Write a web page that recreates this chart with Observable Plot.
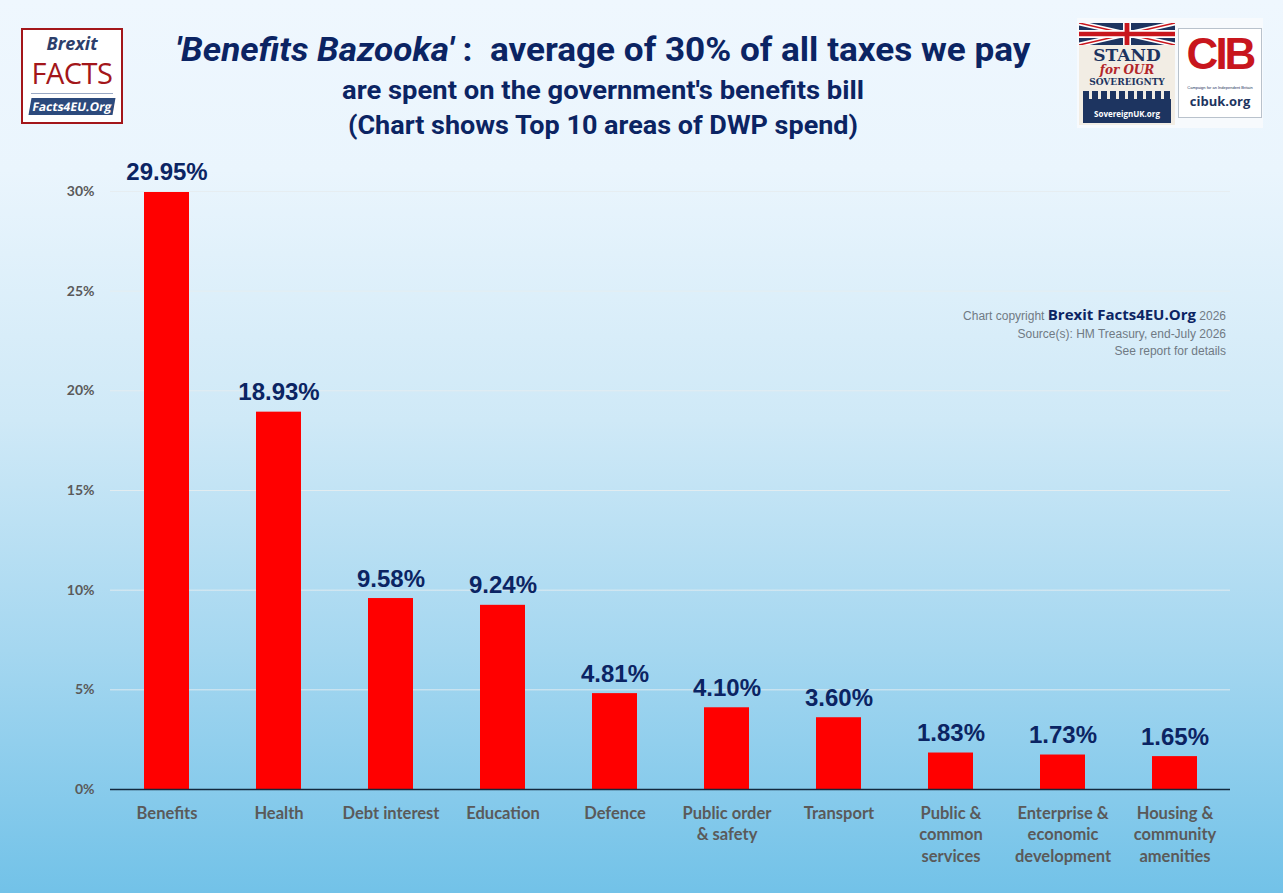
<!DOCTYPE html>
<html>
<head>
<meta charset="utf-8">
<script src="https://cdn.jsdelivr.net/npm/d3@7"></script>
<script src="https://cdn.jsdelivr.net/npm/@observablehq/plot@0.6"></script>
<style>
  html, body { margin: 0; padding: 0; }
  body {
    width: 1283px; height: 893px; overflow: hidden; position: relative;
    background: linear-gradient(to bottom, #eff7fe 0px, #eaf5fd 170px, #cfe9f7 420px, #a5d7f0 650px, #72c2e8 893px);
    font-family: "Liberation Sans", Arial, sans-serif;
  }
  #header { position: relative; height: 150px; }
  .tl { position: absolute; left: 603px; white-space: nowrap; font-weight: bold; color: #0b2463;
        font-family: "Roboto", sans-serif; transform-origin: 0 0; }
  .t1 { top: 29px; font-size: 34px; }
  .t2 { top: 76px; font-size: 25px; }
  .t3 { top: 111px; font-size: 25px; }
  #bf { position: absolute; left: 21px; top: 28px; width: 98px; height: 92px; background: #fff; border: 2px solid #a3161a; }
  #bf .b1 { position: absolute; top: 3px; width: 100%; text-align: center; font: italic bold 18px "Open Sans", sans-serif; color: #2c3e6b; line-height: 20px; }
  #bf .b2 { position: absolute; top: 28px; width: 100%; text-align: center; font: 29px "Open Sans", sans-serif; color: #a3161a; letter-spacing: -0.5px; line-height: 30px; }
  #bf .b3 { position: absolute; top: 63px; left: 8px; width: 82px; height: 1px; background: #9aa9c4; }
  #bf .b4 { position: absolute; top: 68px; left: 7px; width: 84px; height: 17px; background: #2c4a7c; transform: skewX(-10deg);
            color: #fff; font: bold 12px "Open Sans", sans-serif; text-align: center; line-height: 17px; }
  #rp { position: absolute; left: 1077px; top: 18px; width: 186px; height: 110px; background: #f7fafd; }
  #sos { position: absolute; left: 2px; top: 5px; width: 96px; height: 102px; background: #f2ede4; overflow: hidden; }
  #sos .s1 { position: absolute; top: 22px; width: 100%; text-align: center; font: bold 17px "DejaVu Serif", serif; color: #1d3460; }
  #sos .s2 { position: absolute; top: 40px; width: 100%; text-align: center; font: italic bold 12px "DejaVu Serif", serif; color: #b3262a; }
  #sos .s3 { position: absolute; top: 54px; width: 100%; text-align: center; font: bold 9px "DejaVu Serif", serif; color: #1d3460; }
  #sos .s4 { position: absolute; top: 76px; left: 4px; width: 88px; height: 24px; background: #1d3460; color: #fff;
             font: bold 8px "Open Sans", sans-serif; text-align: center; line-height: 30px; }
  #sos .s5 { position: absolute; top: 68px; left: 4px; width: 88px; height: 10px;
             background: repeating-linear-gradient(to right, #1d3460 0 6px, transparent 6px 9px); }
  #cib { position: absolute; left: 101px; top: 10px; width: 82px; height: 88px; background: #fff; border: 1px solid #b9c2cc; }
  #cib .c1 { position: absolute; top: 0px; width: 100%; text-align: center; font: bold 44px "Liberation Sans", sans-serif; color: #c8161d; letter-spacing: -3px; }
  #cib .c2 { position: absolute; top: 56px; width: 100%; text-align: center; font: 4px "Liberation Sans", sans-serif; color: #1d3460; }
  #cib .c3 { position: absolute; top: 63px; width: 100%; text-align: center; font: bold 13px "Open Sans", sans-serif; color: #1d3460; }
  #copy { position: absolute; right: 57px; top: 304px; text-align: right; font: 12px "Liberation Sans", sans-serif; color: #707a84; line-height: 17.5px; }
  #copy b { font: bold 15px "Open Sans", sans-serif; color: #0b2463; }
  #chart { position: absolute; left: 0; top: 150px; }
</style>
</head>
<body>
<div id="header">
  <div class="tl t1" data-w="855"><i>'Benefits Bazooka'</i> :&nbsp; average of 30% of all taxes we pay</div>
  <div class="tl t2" data-w="522">are spent on the government's benefits bill</div>
  <div class="tl t3" data-w="510">(Chart shows Top 10 areas of DWP spend)</div>
  <div id="bf">
    <div class="b1">Brexit</div>
    <div class="b2">FACTS</div>
    <div class="b3"></div>
    <div class="b4">Facts4EU.Org</div>
  </div>
  <div id="rp">
    <div id="sos">
      <svg width="96" height="22" viewBox="0 0 60 14" preserveAspectRatio="none" style="position:absolute;top:0;left:0">
        <rect width="60" height="14" fill="#1d3460"/>
        <path d="M0,0 L60,14 M60,0 L0,14" stroke="#fff" stroke-width="3"/>
        <path d="M0,0 L60,14 M60,0 L0,14" stroke="#c8161d" stroke-width="1"/>
        <path d="M30,0 V14 M0,7 H60" stroke="#fff" stroke-width="5"/>
        <path d="M30,0 V14 M0,7 H60" stroke="#c8161d" stroke-width="3"/>
      </svg>
      <div class="s1">STAND</div>
      <div class="s2">for OUR</div>
      <div class="s3">SOVEREIGNTY</div>
      <div class="s5"></div>
      <div class="s4">SovereignUK.org</div>
    </div>
    <div id="cib">
      <div class="c1">CIB</div>
      <div class="c2">Campaign for an Independent Britain</div>
      <div class="c3">cibuk.org</div>
    </div>
  </div>
</div>
<div id="copy">Chart copyright <b>Brexit Facts4EU.Org</b> 2026<br>Source(s): HM Treasury, end-July 2026<br>See report for details</div>
<div id="chart"></div>
<script>
const categories = ["Benefits", "Health", "Debt interest", "Education", "Defence", "Public order\n& safety", "Transport", "Public &\ncommon\nservices", "Enterprise &\neconomic\ndevelopment", "Housing &\ncommunity\namenities"];
const shares = [29.95, 18.93, 9.58, 9.24, 4.81, 4.10, 3.60, 1.83, 1.73, 1.65];
const valueLabels = ["29.95%", "18.93%", "9.58%", "9.24%", "4.81%", "4.10%", "3.60%", "1.83%", "1.73%", "1.65%"];
const yTicks = [0, 5, 10, 15, 20, 25, 30];

const data = categories.map((c, i) => ({category: c, share: shares[i], label: valueLabels[i]}));

// fit header lines to the reference widths, centred on x = 603
document.querySelectorAll(".tl").forEach(el => {
  const w = el.getBoundingClientRect().width;
  const target = +el.dataset.w;
  const s = target / w;
  el.style.transform = `translateX(${-target / 2}px) scaleX(${s})`;
});

const chart = Plot.plot({
  width: 1283,
  height: 743,
  marginLeft: 110,
  marginRight: 53,
  marginTop: 41,
  marginBottom: 104,
  style: {background: "transparent", overflow: "visible"},
  x: {domain: categories, paddingInner: 0.6, paddingOuter: 0.3, label: null},
  y: {domain: [0, 30], label: null},
  marks: [
    Plot.gridY(yTicks.filter(d => d > 0), {stroke: "#e6ecef", strokeOpacity: 0.9, strokeWidth: 1}),
    Plot.barY(data, {x: "category", y: "share", fill: "#ff0000"}),
    Plot.ruleY([0], {stroke: "#13283d", strokeWidth: 1.3}),
    Plot.text(data, {x: "category", y: "share", text: "label", lineAnchor: "bottom", dy: -12,
      fill: "#0b2463", fontSize: 24, fontWeight: "bold", fontFamily: "Liberation Sans, Arial, sans-serif"}),
    Plot.axisY({ticks: yTicks, tickFormat: d => d + "%", tickSize: 0, tickPadding: 16,
      fontSize: 14, fontWeight: "bold", fill: "#5a5a5a", fontFamily: "Lato, sans-serif"}),
    Plot.axisX({tickSize: 0, tickPadding: 14, lineHeight: 1.3, lineAnchor: "top",
      fontSize: 16.5, fontWeight: "bold", fill: "#5a5a5a", fontFamily: "Lato, sans-serif"})
  ]
});
document.getElementById("chart").appendChild(chart);
</script>
</body>
</html>
